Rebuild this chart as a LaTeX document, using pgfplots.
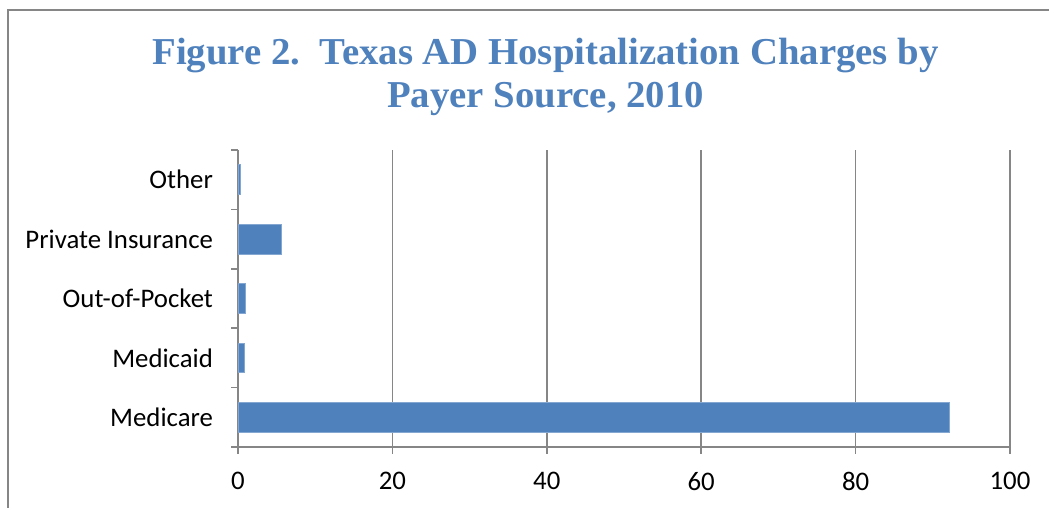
\documentclass[border=0pt]{standalone}
\usepackage{fontspec}
\setmainfont{Carlito}
\newfontfamily\titlefont[FakeStretch=1.02]{Liberation Serif}
\usepackage{pgfplots}
\pgfplotsset{compat=1.18}
\definecolor{barblue}{RGB}{79,129,189}
\definecolor{axgray}{RGB}{134,134,134}
\begin{document}
\begin{tikzpicture}
\useasboundingbox (0,0) rectangle (524.5pt,254pt);
\draw[axgray, line width=1pt] (4pt,249pt) rectangle (560pt,-30pt);
\node[anchor=base, text=barblue, font=\titlefont\bfseries\fontsize{19pt}{22pt}\selectfont] at (272.75pt,221.5pt) {Figure 2.\ \ Texas AD Hospitalization Charges by};
\node[anchor=base, text=barblue, font=\titlefont\bfseries\fontsize{19pt}{22pt}\selectfont] at (272.75pt,200pt) {Payer Source, 2010};
\begin{axis}[
  at={(119pt,30.5pt)}, anchor=south west,
  width=386pt, height=148.5pt, scale only axis,
  xbar, bar width=0.5,
  xmin=0, xmax=100, ymin=-0.5, ymax=4.5,
  xtick={0,20,40,60,80,100},
  ytick={-0.5,0.5,1.5,2.5,3.5,4.5},
  y tick label as interval,
  yticklabels={Medicare,Medicaid,Out-of-Pocket,Private Insurance,Other},
  axis lines*=left,
  axis line style={-, axgray, line width=0.8pt},
  xmajorgrids,
  major grid style={axgray, line width=0.8pt},
  tick align=outside,
  major tick length=3.5pt,
  tick style={axgray, line width=0.8pt},
  font=\fontsize{13.4pt}{15pt}\selectfont,
  /pgf/number format/assume math mode=true,
  yticklabel style={xshift=-5.5pt},
  xticklabel style={yshift=-5.5pt},
]
\addplot[fill=barblue, draw=barblue!70!white, line width=0.4pt] coordinates {
 (92.1,0) (0.87,1) (1.0,2) (5.66,3) (0.28,4)
};
\end{axis}
\end{tikzpicture}
\end{document}
